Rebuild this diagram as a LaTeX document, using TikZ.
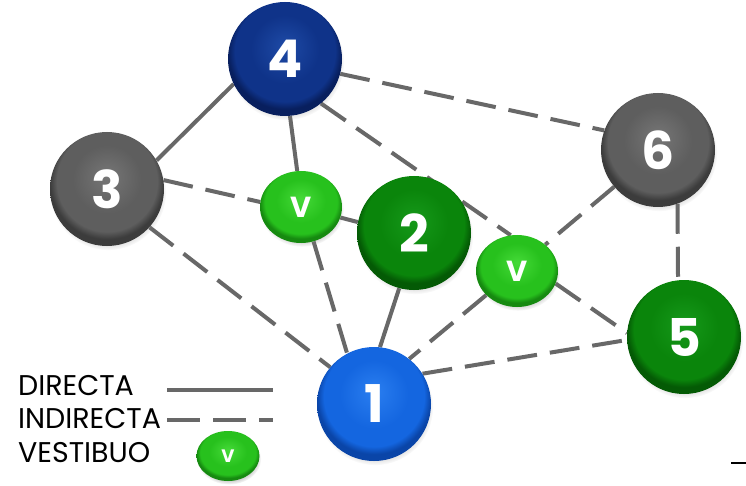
\documentclass[tikz,border=0pt]{standalone}
\usepackage{fontspec}
\setmainfont{Poppins}
\usetikzlibrary{shapes.geometric,shadows,fadings}
\pgfdeclarelayer{back}
\pgfdeclarelayer{bg}
\pgfsetlayers{back,bg,main}
\definecolor{edgegray}{HTML}{686868}
\definecolor{navyhi}{HTML}{1E4AA6}
\definecolor{navy}{HTML}{0F3389}
\definecolor{navydk}{HTML}{081F5E}
\definecolor{bluehi}{HTML}{2A7EF0}
\definecolor{blue}{HTML}{1466E0}
\definecolor{bluedk}{HTML}{0A45A8}
\definecolor{grayhi}{HTML}{767676}
\definecolor{gray}{HTML}{5E5E5E}
\definecolor{graydk}{HTML}{3C3C3C}
\definecolor{greenhi}{HTML}{16991A}
\definecolor{green}{HTML}{0A850B}
\definecolor{greendk}{HTML}{045A05}
\definecolor{limehi}{HTML}{45DA38}
\definecolor{lime}{HTML}{27C11D}
\definecolor{limedk}{HTML}{168A10}
\pgfdeclareradialshading{shnavy}{\pgfpoint{0bp}{6bp}}{color(0bp)=(navyhi); color(15bp)=(navy); color(22bp)=(navy); color(25bp)=(navydk); color(50bp)=(navydk)}
\pgfdeclareradialshading{shblue}{\pgfpoint{0bp}{6bp}}{color(0bp)=(bluehi); color(15bp)=(blue); color(22bp)=(blue); color(25bp)=(bluedk); color(50bp)=(bluedk)}
\pgfdeclareradialshading{shgray}{\pgfpoint{0bp}{6bp}}{color(0bp)=(grayhi); color(15bp)=(gray); color(22bp)=(gray); color(25bp)=(graydk); color(50bp)=(graydk)}
\pgfdeclareradialshading{shgreen}{\pgfpoint{0bp}{6bp}}{color(0bp)=(greenhi); color(15bp)=(green); color(22bp)=(green); color(25bp)=(greendk); color(50bp)=(greendk)}
\pgfdeclareradialshading{shlime}{\pgfpoint{0bp}{6bp}}{color(0bp)=(limehi); color(15bp)=(lime); color(22bp)=(lime); color(25bp)=(limedk); color(50bp)=(limedk)}
\tikzset{
  btn/.style={circle, minimum size=114pt, inner sep=0pt, text=white,
    font=\fontsize{52}{52}\selectfont\bfseries, shade, shading=#1,
    circular drop shadow={shadow xshift=1pt, shadow yshift=-3pt, shadow scale=1.02, opacity=0.35}},
  vbtn/.style={ellipse, minimum width=82pt, minimum height=72pt, inner sep=0pt, text=white,
    font=\fontsize{29}{29}\selectfont\bfseries, shade, shading=shlime,
    circular drop shadow={shadow xshift=1pt, shadow yshift=-3pt, shadow scale=1.02, opacity=0.35}},
  direct/.style={draw=edgegray, line width=4pt},
  indirect/.style={draw=edgegray, line width=4pt, dash pattern=on 30pt off 13pt},
  legtext/.style={anchor=base west, inner sep=0pt, text=black, font=\fontsize{28.5}{28.5}\selectfont},
}
\begin{document}
\begin{tikzpicture}[x=1pt,y=-1pt]
\useasboundingbox (0,0) rectangle (746,486);
\begin{pgfonlayer}{back}
\fill[white] (0,0) rectangle (746,486);
\end{pgfonlayer}
% nodes
\node[btn=shnavy] (n4) at (285,59) {4};
\node[btn=shgray] (n3) at (107,189) {3};
\node[btn=shgray] (n6) at (658,150) {6};
\node[btn=shgreen] (n2) at (414,233) {2};
\node[btn=shgreen] (n5) at (684,337) {5};
\node[btn=shblue] (n1) at (374,404) {1};
\node[vbtn] (v1) at (301,207) {V};
\node[vbtn] (v2) at (517,271) {V};
% edges
\begin{pgfonlayer}{bg}
\draw[direct] (n4.206) -- (n3.30);
\draw[direct] (n4.275) -- (v1.96);
\draw[direct] (v1.345) -- (n2.169);
\draw[direct] (n2.255) -- (n1.84);
\draw[indirect] (n3.9) -- (v1.173);
\draw[indirect] (n3.318) -- (n1.140);
\draw[indirect] (v1.290) -- (n1.118);
\draw[indirect] (n4.309) -- (v2.100);
\draw[indirect] (n4.345) -- (n6.160);
\draw[indirect] (n6.220) -- (v2.43);
\draw[indirect] (v2.342) -- (n5.176);
\draw[indirect] (v2.218) -- (n1.52);
\draw[indirect] (n1.32) -- (n5.183);
\draw[indirect] (n6.290) -- (n5.96);
\end{pgfonlayer}
% legend
\node[legtext] (tdir) at (18,395) {DIRECTA};
\node[legtext] (tind) at (18,428) {INDIRECTA};
\node[legtext] (tves) at (18,462) {VESTIBUO};
\coordinate (ls1) at (167,390);
\coordinate (ls2) at (273,390);
\coordinate (ld1) at (167,420);
\coordinate (ld2) at (273,420);
\draw[direct] (ls1) -- (ls2);
\draw[edgegray, line width=4pt, dash pattern=on 33pt off 13pt] (ld1) -- (ld2);
\node[vbtn, minimum width=63pt, minimum height=50pt, font=\fontsize{18}{18}\selectfont\bfseries] (vl) at (228,456) {V};
\coordinate (m1) at (731,463);
\coordinate (m2) at (746,463);
\draw[line width=2pt] (m1) -- (m2);
\end{tikzpicture}
\end{document}
